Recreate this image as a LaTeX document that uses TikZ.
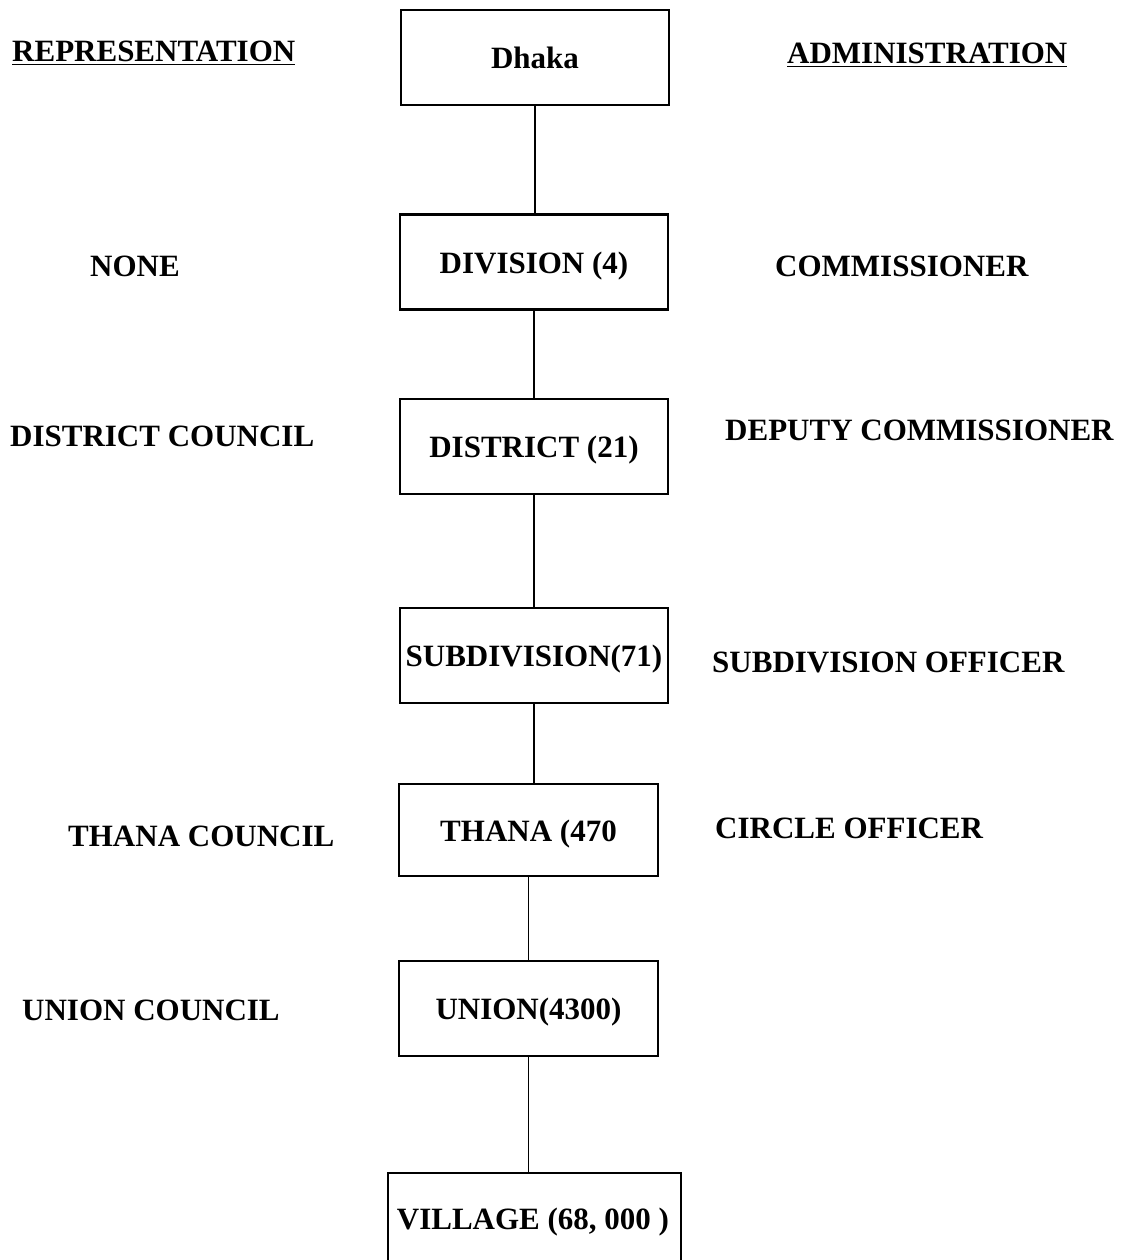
\documentclass[tikz,border=0pt]{standalone}
\usepackage{fontspec}
\setmainfont{Liberation Serif}
\usetikzlibrary{positioning}

\tikzset{
  lvl/.style={draw, line width=2.2pt, minimum width=268pt, minimum height=95pt,
    inner sep=0pt, text height=22pt, text depth=0pt,
    font=\fontsize{31}{37}\selectfont\bfseries},
  side/.style={anchor=base west, inner sep=0pt, font=\fontsize{31}{37}\selectfont\bfseries},
  link/.style={line width=1.5pt}
}

\begin{document}
\begin{tikzpicture}[x=1pt,y=-1pt]
    \useasboundingbox (0,0) rectangle (1127,1260);

    % headings
    \node[side] (rep) at (12,62) {\underline{REPRESENTATION}};
    \node[side] (adm) at (787,64) {\underline{ADMINISTRATION}};

    % levels
    \node[lvl] (dhaka) at (535,57.5) {Dhaka};
    \node[lvl] (division) at (534,262) {DIVISION (4)};
    \node[lvl] (district) at (534,446.5) {DISTRICT (21)};
    \node[lvl] (subdiv) at (534,655.5) {SUBDIVISION(71)};
    \node[lvl, minimum width=259pt, minimum height=92pt] (thana) at (528.5,830) {THANA (470};
    \node[lvl, minimum width=259pt] (union) at (528.5,1008.5) {UNION(4300)};
    \node[lvl, minimum width=293pt, minimum height=130pt, anchor=north] (village) at (534.5,1172) {};
    \node[side, anchor=base] (villagetxt) at (533,1229) {VILLAGE (68, 000 )};

    % representation
    \node[side] (none) at (90,276) {NONE};
    \node[side] (dcouncil) at (10,446) {DISTRICT COUNCIL};
    \node[side] (tcouncil) at (68,846) {THANA COUNCIL};
    \node[side] (ucouncil) at (22,1020) {UNION COUNCIL};

    % administration
    \node[side] (comm) at (775,276) {COMMISSIONER};
    \node[side] (dcomm) at (725,440) {DEPUTY COMMISSIONER};
    \node[side] (sdo) at (712,672) {SUBDIVISION OFFICER};
    \node[side] (circle) at (715,838) {CIRCLE OFFICER};

    \draw[link] (dhaka.south) -- (dhaka.south |- division.north);
    \draw[link] (division.south) -- (division.south |- district.north);
    \draw[link] (district.south) -- (district.south |- subdiv.north);
    \draw[link] (subdiv.south) -- (subdiv.south |- thana.north);
    \draw[link] (thana.south) -- (thana.south |- union.north);
    \draw[link] (union.south) -- (union.south |- village.north);
\end{tikzpicture}
\end{document}
